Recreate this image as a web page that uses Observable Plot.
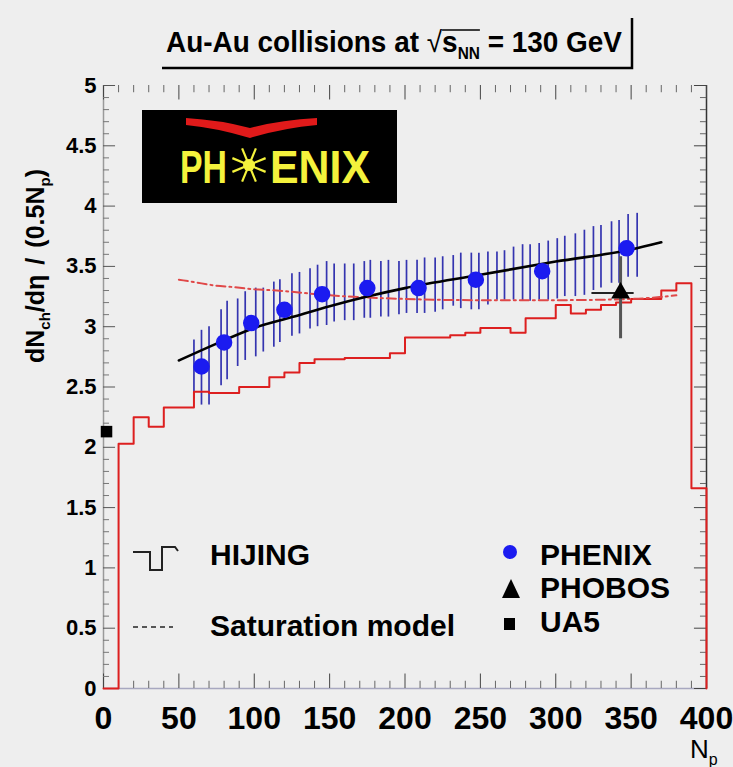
<!DOCTYPE html>
<html><head><meta charset="utf-8">
<script src="https://cdn.jsdelivr.net/npm/d3@7"></script>
<script src="https://cdn.jsdelivr.net/npm/@observablehq/plot@0.6"></script>
<style>
body{margin:0;background:#eeeeee;}
#chart svg{display:block;background:#eeeeee;}
</style></head><body><div id="chart"></div>
<script>
// HIJING histogram (bin left edges, values)
const hijingEdges = [0,10,20,30,40,50,60,70,80,90,100,110,120,130,140,150,160,170,180,190,200,210,220,230,240,250,260,270,280,290,300,310,320,330,340,350,360,370,380,390,400];
const hijingValues = [0,2.03,2.25,2.17,2.33,2.33,2.46,2.45,2.45,2.50,2.50,2.58,2.62,2.70,2.73,2.73,2.74,2.74,2.74,2.78,2.91,2.91,2.91,2.93,2.95,2.99,2.99,2.95,3.07,3.07,3.18,3.11,3.14,3.18,3.20,3.23,3.23,3.30,3.36,1.66,0];
// Saturation model
const satN = [50,60,75,85,100,115,150,200,250,300,350,380];
const satValues = [3.39,3.37,3.34,3.33,3.31,3.30,3.26,3.23,3.22,3.22,3.23,3.26];
// Fit line
const fitN = [50,75,100,125,150,175,200,250,300,350,370];
const fitValues = [2.72,2.86,2.99,3.08,3.17,3.25,3.32,3.43,3.54,3.64,3.70];
// PHENIX points
const phenixN = [347,291,247,209,175,145,120,98,80,65];
const phenixValues = [3.65,3.46,3.39,3.32,3.32,3.27,3.14,3.03,2.87,2.67];
// PHENIX systematic band (vertical lines)
const bandN = [60,65,70,78,82,89,94,101,106,113,117,125,130,137,142,148,153,160,166,173,177,184,189,196,201,208,213,220,225,232,237,244,249,255,261,266,272,278,283,289,295,301,306,313,319,325,330,337,342,348,354];
const bandLow = [2.40,2.35,2.35,2.51,2.56,2.67,2.72,2.75,2.79,2.83,2.87,2.92,2.94,2.98,3.00,3.01,3.04,3.05,3.05,3.07,3.07,3.08,3.08,3.10,3.11,3.11,3.11,3.12,3.14,3.17,3.15,3.14,3.14,3.18,3.22,3.22,3.22,3.21,3.21,3.22,3.22,3.23,3.25,3.25,3.26,3.30,3.32,3.36,3.36,3.41,3.41];
const bandHigh = [2.89,2.97,3.00,3.14,3.21,3.23,3.29,3.32,3.32,3.37,3.39,3.44,3.45,3.48,3.51,3.54,3.52,3.52,3.52,3.54,3.55,3.54,3.55,3.54,3.55,3.55,3.57,3.57,3.58,3.59,3.61,3.61,3.61,3.62,3.62,3.63,3.66,3.68,3.68,3.69,3.71,3.73,3.75,3.77,3.80,3.83,3.84,3.87,3.88,3.93,3.94];
// PHOBOS
const phobosN = [343], phobosValues = [3.28], phobosLow = [2.90], phobosHigh = [3.58], phobosNLow = [324], phobosNHigh = [352];
// UA5
const ua5N = [2], ua5Values = [2.13];
// Axis ticks
const xTicks = [0,50,100,150,200,250,300,350,400];
const xMinor = [10,20,30,40,60,70,80,90,110,120,130,140,160,170,180,190,210,220,230,240,260,270,280,290,310,320,330,340,360,370,380,390];
const yTicks = [0,0.5,1,1.5,2,2.5,3,3.5,4,4.5,5];
const yMinor = [0.1,0.2,0.3,0.4,0.6,0.7,0.8,0.9,1.1,1.2,1.3,1.4,1.6,1.7,1.8,1.9,2.1,2.2,2.3,2.4,2.6,2.7,2.8,2.9,3.1,3.2,3.3,3.4,3.6,3.7,3.8,3.9,4.1,4.2,4.3,4.4,4.6,4.7,4.8,4.9];
// Texts
const titleParts = ["Au-Au collisions at ", "\u221A", "s", "NN", " = 130 GeV"];
const legendLeft = ["HIJING", "Saturation model"];
const legendRight = ["PHENIX", "PHOBOS", "UA5"];

const hijing = hijingEdges.map((x, i) => ({x, y: hijingValues[i]}));
const sat = satN.map((x, i) => ({x, y: satValues[i]}));
const fit = fitN.map((x, i) => ({x, y: fitValues[i]}));
const phenix = phenixN.map((x, i) => ({x, y: phenixValues[i]}));
const band = bandN.map((x, i) => ({x, lo: bandLow[i], hi: bandHigh[i]}));
const phobos = phobosN.map((x, i) => ({x, y: phobosValues[i], lo: phobosLow[i], hi: phobosHigh[i], xl: phobosNLow[i], xh: phobosNHigh[i]}));
const ua5 = ua5N.map((x, i) => ({x, y: ua5Values[i]}));

const FONT = "'Liberation Sans', Arial, Helvetica, sans-serif";

const chart = Plot.plot({
  width: 733, height: 767,
  marginLeft: 103, marginRight: 27, marginTop: 85, marginBottom: 79,
  x: {domain: [0, 400], axis: null},
  y: {domain: [0, 5], axis: null},
  style: {background: "#eeeeee", fontFamily: FONT, overflow: "visible"},
  marks: [
    Plot.ruleX([0], {stroke: "#9a9a9a", strokeWidth: 1.5}),
    Plot.ruleY([0], {stroke: "#a8a8c0", strokeWidth: 1.5}),
    Plot.ruleX([400], {stroke: "#333", strokeWidth: 1.5}),
    Plot.ruleX(xTicks, {x: d => d, y1: 0, y2: 0.12, stroke: "#444"}),
    Plot.ruleX(xMinor, {x: d => d, y1: 0, y2: 0.06, stroke: "#666"}),
    Plot.ruleX(xTicks, {x: d => d, y1: 5, y2: 4.88, stroke: "#444"}),
    Plot.ruleX(xMinor, {x: d => d, y1: 5, y2: 4.94, stroke: "#666"}),
    Plot.ruleY(yTicks, {y: d => d, x1: 0, x2: 8, stroke: "#555"}),
    Plot.ruleY(yMinor, {y: d => d, x1: 0, x2: 4, stroke: "#777"}),
    Plot.ruleY(yTicks, {y: d => d, x1: 400, x2: 392, stroke: "#444"}),
    Plot.ruleY(yMinor, {y: d => d, x1: 400, x2: 396, stroke: "#666"}),
    Plot.text(xTicks, {x: d => d, y: 0, dy: 30, text: d => String(d), fontSize: 32, fontWeight: "bold", fill: "black", ariaLabel: "x tick label"}),
    Plot.text(yTicks, {x: 0, y: d => d, dx: -7, textAnchor: "end", text: d => String(d), fontSize: 22, fontWeight: "bold", fill: "black"}),
    Plot.ruleX(band, {x: "x", y1: "lo", y2: "hi", stroke: "#3434b0", strokeWidth: 1.7}),
    Plot.line(hijing, {x: "x", y: "y", curve: "step-after", stroke: "#dd1f1f", strokeWidth: 2}),
    Plot.line(sat, {x: "x", y: "y", curve: "monotone-x", stroke: "#e04848", strokeWidth: 2, strokeDasharray: "9,4,2,4"}),
    Plot.line(fit, {x: "x", y: "y", curve: "monotone-x", stroke: "black", strokeWidth: 2.6}),
    Plot.dot(phenix, {x: "x", y: "y", r: 7.5, fill: "#1b1bf0", stroke: "#1b1bf0"}),
    Plot.ruleX(phobos, {x: "x", y1: "lo", y2: "hi", stroke: "#555", strokeWidth: 3}),
    Plot.ruleY(phobos, {y: "y", x1: "xl", x2: "xh", stroke: "#222", strokeWidth: 2}),
    Plot.dot(phobos, {x: "x", y: "y", symbol: "triangle", r: 7, fill: "black"}),
    Plot.dot(ua5, {x: "x", y: "y", symbol: "square", r: 6.5, fill: "black"})
  ]
});
document.getElementById("chart").appendChild(chart);

const svg = d3.select(chart);
svg.selectAll('g[aria-label="x tick label"] text').each(function() {
  const n = this.textContent.length;
  this.setAttribute("textLength", 11.5 * n);
  this.setAttribute("lengthAdjust", "spacingAndGlyphs");
});

// Title
const title = svg.append("text").attr("x", 166).attr("y", 52).attr("text-anchor", "start")
  .attr("font-family", FONT).attr("font-size", 29).attr("font-weight", "bold")
  .attr("textLength", 456).attr("lengthAdjust", "spacingAndGlyphs");
title.append("tspan").text(titleParts[0]);
title.append("tspan").attr("font-weight", "normal").text(titleParts[1]);
title.append("tspan").text(titleParts[2]);
title.append("tspan").attr("font-size", 16).attr("dy", 7).text(titleParts[3]);
title.append("tspan").attr("dy", -7).text(titleParts[4]);
try {
  const node = title.node();
  const i0 = titleParts[0].length;
  const eS = node.getExtentOfChar(i0 + 1);
  const eN = node.getExtentOfChar(i0 + 3);
  const eR = node.getExtentOfChar(i0);
  svg.append("line").attr("x1", eS.x).attr("x2", eN.x + eN.width)
    .attr("y1", eR.y + 4).attr("y2", eR.y + 4).attr("stroke", "black").attr("stroke-width", 1.5);
} catch (e) {}
svg.append("path").attr("d", "M162,68 L632,68 L632,18").attr("fill", "none").attr("stroke", "black").attr("stroke-width", 2.5);

// Y label
const yl = svg.append("text").attr("transform", "translate(44,266) rotate(-90)")
  .attr("text-anchor", "middle").attr("font-family", FONT).attr("font-size", 25).attr("font-weight", "bold");
yl.append("tspan").text("dN");
yl.append("tspan").attr("font-size", 15).attr("dy", 6).text("ch");
yl.append("tspan").attr("dy", -6).text("/d\u03B7");
yl.append("tspan").attr("dx", 10).text("/");
yl.append("tspan").attr("dx", 10).text("(0.5N");
yl.append("tspan").attr("font-size", 15).attr("dy", 6).text("p");
yl.append("tspan").attr("dy", -6).text(")");

// X label
const xl = svg.append("text").attr("x", 690).attr("y", 758).attr("text-anchor", "start").attr("font-family", FONT).attr("font-size", 26);
xl.append("tspan").text("N");
xl.append("tspan").attr("font-size", 16).attr("dy", 7).text("p");

// Logo
const logo = svg.append("g").attr("text-anchor", "start");
logo.append("rect").attr("x", 142).attr("y", 110).attr("width", 255).attr("height", 93).attr("fill", "black");
logo.append("path").attr("d", "M186,118 Q220,120 250,128 Q280,120 317,118 L317,125 Q283,128 250,138 Q217,128 186,125 Z").attr("fill", "#e01a1a");
logo.append("text").attr("x", 180).attr("y", 183).attr("font-family", FONT).attr("font-weight", "bold").attr("font-size", 46)
  .attr("fill", "#f4f23c").attr("textLength", 47).attr("lengthAdjust", "spacingAndGlyphs").text("PH");
logo.append("text").attr("x", 270).attr("y", 183).attr("font-family", FONT).attr("font-weight", "bold").attr("font-size", 46)
  .attr("fill", "#f4f23c").attr("textLength", 100).attr("lengthAdjust", "spacingAndGlyphs").text("ENIX");
const cx = 249, cy = 165;
for (let k = 0; k < 8; k++) {
  const a = k * Math.PI / 4 + Math.PI / 8;
  logo.append("line").attr("x1", cx + 4 * Math.cos(a)).attr("y1", cy + 4 * Math.sin(a))
    .attr("x2", cx + 18 * Math.cos(a)).attr("y2", cy + 18 * Math.sin(a))
    .attr("stroke", "#f4f23c").attr("stroke-width", 2.2);
}
logo.append("circle").attr("cx", cx).attr("cy", cy).attr("r", 6).attr("fill", "#f4f23c");

// Legend
const lg = svg.append("g").attr("text-anchor", "start").attr("font-family", FONT).attr("font-weight", "bold").attr("font-size", 30).attr("fill", "black");
lg.append("path").attr("d", "M133,552 L150,552 L150,570 L162,570 L162,547 L175,547 L178,551").attr("fill", "none").attr("stroke", "#222").attr("stroke-width", 2);
lg.append("text").attr("x", 210).attr("y", 565).text(legendLeft[0]);
lg.append("line").attr("x1", 133).attr("x2", 173).attr("y1", 627).attr("y2", 627).attr("stroke", "#555").attr("stroke-width", 2).attr("stroke-dasharray", "5,4");
lg.append("text").attr("x", 210).attr("y", 636).text(legendLeft[1]);
lg.append("circle").attr("cx", 510).attr("cy", 552).attr("r", 7).attr("fill", "#1b1bf0");
lg.append("text").attr("x", 540).attr("y", 565).text(legendRight[0]);
lg.append("path").attr("d", "M511,579 L520,598 L502,598 Z").attr("fill", "black");
lg.append("text").attr("x", 540).attr("y", 598).text(legendRight[1]);
lg.append("rect").attr("x", 504).attr("y", 618).attr("width", 11).attr("height", 12).attr("fill", "black");
lg.append("text").attr("x", 540).attr("y", 632).text(legendRight[2]);
</script></body></html>
